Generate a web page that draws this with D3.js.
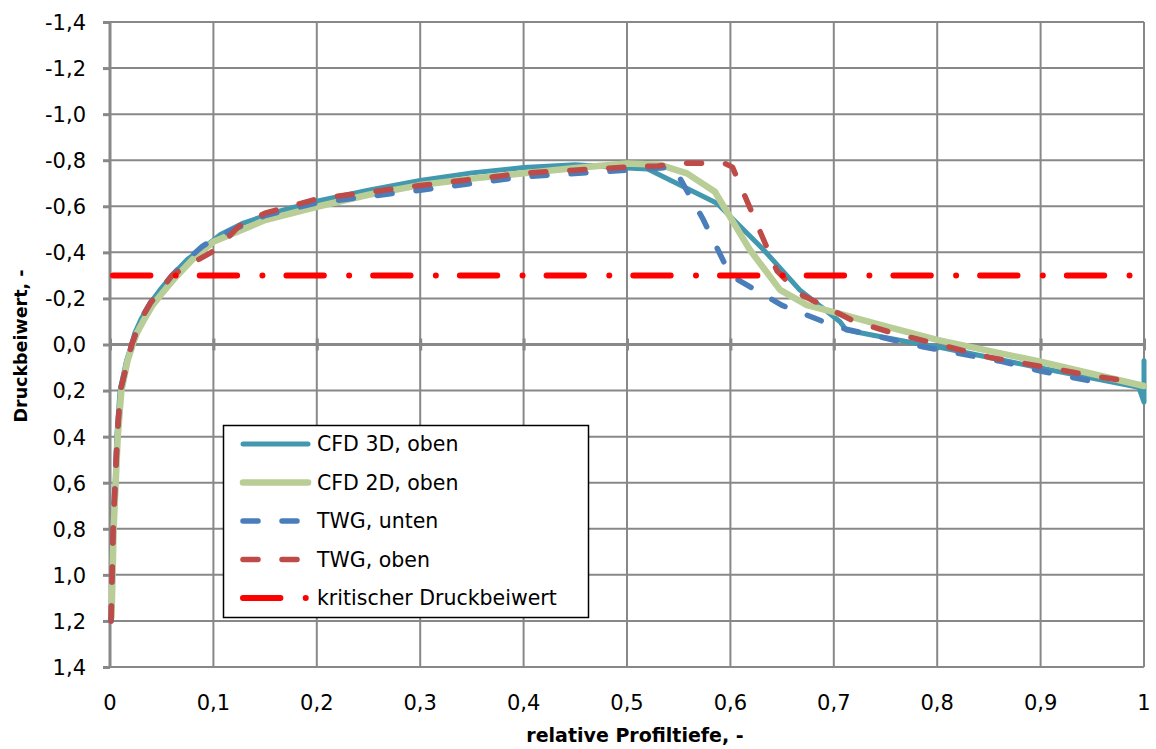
<!DOCTYPE html>
<html>
<head>
<meta charset="utf-8">
<script src="https://cdn.jsdelivr.net/npm/d3@7"></script>
<style>
  body { margin: 0; background: #fff; }
  svg text { font-family: "DejaVu Sans", "Open Sans", sans-serif; fill: #000; }
</style>
</head>
<body>
<svg id="chart" width="1156" height="749"></svg>
<script>
// Axis ticks and labels (German decimal comma)
const xTicks = [0, 0.1, 0.2, 0.3, 0.4, 0.5, 0.6, 0.7, 0.8, 0.9, 1];
const xTickLabels = ["0", "0,1", "0,2", "0,3", "0,4", "0,5", "0,6", "0,7", "0,8", "0,9", "1"];
const yTicks = [-1.4, -1.2, -1.0, -0.8, -0.6, -0.4, -0.2, 0, 0.2, 0.4, 0.6, 0.8, 1.0, 1.2, 1.4];
const yTickLabels = ["-1,4", "-1,2", "-1,0", "-0,8", "-0,6", "-0,4", "-0,2", "0,0", "0,2", "0,4", "0,6", "0,8", "1,0", "1,2", "1,4"];

// CFD 3D, upper side
const cfd3dX  = [0.001, 0.002, 0.003, 0.005, 0.0065, 0.0097, 0.016, 0.021, 0.024, 0.030, 0.039, 0.048, 0.060, 0.075, 0.0935, 0.106, 0.129, 0.161, 0.200, 0.250, 0.300, 0.350, 0.400, 0.450, 0.500, 0.520, 0.587, 0.629, 0.635, 0.667, 0.706, 0.712, 0.738, 0.780, 0.800, 0.900, 0.995, 1.000, 1.000];
const cfd3dCp = [1.20, 1.00, 0.80, 0.60, 0.40, 0.20, 0.07, 0.00, -0.05, -0.11, -0.18, -0.235, -0.30, -0.37, -0.43, -0.475, -0.527, -0.576, -0.622, -0.670, -0.712, -0.745, -0.768, -0.780, -0.766, -0.762, -0.613, -0.425, -0.397, -0.237, -0.099, -0.063, -0.040, -0.005, 0.010, 0.102, 0.186, 0.250, 0.070];

// CFD 2D, upper side
const cfd2dX  = [0.0015, 0.0025, 0.0035, 0.0055, 0.0075, 0.011, 0.017, 0.022, 0.026, 0.032, 0.041, 0.050, 0.063, 0.080, 0.100, 0.150, 0.200, 0.250, 0.300, 0.350, 0.400, 0.450, 0.500, 0.532, 0.558, 0.585, 0.619, 0.648, 0.674, 0.699, 0.745, 0.800, 0.900, 1.000];
const cfd2dCp = [1.18, 1.00, 0.80, 0.60, 0.40, 0.20, 0.07, 0.00, -0.05, -0.10, -0.17, -0.22, -0.29, -0.37, -0.446, -0.540, -0.598, -0.650, -0.692, -0.720, -0.743, -0.766, -0.786, -0.780, -0.743, -0.663, -0.410, -0.237, -0.171, -0.142, -0.085, -0.020, 0.075, 0.180];

// Wind tunnel (TWG), lower side
const twgUntenX  = [0.001, 0.002, 0.003, 0.005, 0.007, 0.010, 0.021, 0.030, 0.039, 0.060, 0.075, 0.089, 0.104, 0.150, 0.200, 0.300, 0.400, 0.500, 0.545, 0.573, 0.600, 0.650, 0.703, 0.786, 0.864, 0.900, 0.951];
const twgUntenCp = [1.20, 1.00, 0.80, 0.60, 0.40, 0.20, 0.00, -0.11, -0.18, -0.30, -0.37, -0.425, -0.468, -0.560, -0.615, -0.670, -0.728, -0.757, -0.770, -0.549, -0.300, -0.170, -0.076, 0.010, 0.075, 0.115, 0.161];

// Wind tunnel (TWG), upper side
const twgObenX  = [0.001, 0.002, 0.003, 0.005, 0.007, 0.010, 0.021, 0.030, 0.039, 0.060, 0.080, 0.098, 0.111, 0.125, 0.150, 0.200, 0.300, 0.400, 0.500, 0.530, 0.560, 0.595, 0.602, 0.645, 0.667, 0.720, 0.754, 0.793, 0.850, 0.900, 0.945, 0.985];
const twgObenCp = [1.20, 1.00, 0.80, 0.60, 0.40, 0.20, 0.00, -0.11, -0.18, -0.30, -0.355, -0.400, -0.450, -0.515, -0.570, -0.632, -0.690, -0.744, -0.770, -0.775, -0.788, -0.785, -0.770, -0.320, -0.220, -0.100, -0.054, -0.010, 0.055, 0.095, 0.132, 0.160];

// Critical pressure coefficient
const kritX  = [0, 1];
const kritCp = [-0.3, -0.3];

const legendLabels = ["CFD 3D, oben", "CFD 2D, oben", "TWG, unten", "TWG, oben", "kritischer Druckbeiwert"];

const zip = (xs, ys) => xs.map((x, i) => ({ x, cp: ys[i] }));

const series = [
  { name: legendLabels[0], data: zip(cfd3dX, cfd3dCp),         color: "#4198AF", width: 5,   dash: null },
  { name: legendLabels[1], data: zip(cfd2dX, cfd2dCp),         color: "#B9CD96", width: 6.5, dash: null },
  { name: legendLabels[2], data: zip(twgUntenX, twgUntenCp),   color: "#4A7EBB", width: 5.5, dash: "15,24" },
  { name: legendLabels[3], data: zip(twgObenX, twgObenCp),     color: "#BE4B48", width: 5.5, dash: "15,24" },
  { name: legendLabels[4], data: zip(kritX, kritCp),           color: "#FF0000", width: 6,   dash: "37.4,25.3,0.01,24", offset: 83.7 }
];

const svg = d3.select("#chart");
const plot = { left: 110, right: 1144, top: 22, bottom: 667 };

const x = d3.scaleLinear().domain([0, 1]).range([plot.left, plot.right]);
const y = d3.scaleLinear().domain([-1.4, 1.4]).range([plot.top, plot.bottom]);

const gridColor = "#888888";

// Gridlines
const grid = svg.append("g");
grid.selectAll("line.h").data(yTicks).join("line")
  .attr("x1", plot.left).attr("x2", plot.right)
  .attr("y1", d => y(d)).attr("y2", d => y(d))
  .attr("stroke", gridColor).attr("stroke-width", 2);
grid.selectAll("line.v").data(xTicks.slice(1)).join("line")
  .attr("x1", d => x(d)).attr("x2", d => x(d))
  .attr("y1", plot.top).attr("y2", plot.bottom)
  .attr("stroke", gridColor).attr("stroke-width", 2);

// Y axis with outward ticks
const yAxis = d3.axisLeft(y).tickValues(yTicks).tickSize(7).tickPadding(17)
  .tickFormat((d, i) => yTickLabels[i]);
const gy = svg.append("g").attr("transform", `translate(${plot.left},0)`).call(yAxis);
gy.select(".domain").attr("stroke", gridColor).attr("stroke-width", 3)
  .attr("d", `M0,${plot.top - 1}V${plot.bottom + 1}`);
gy.selectAll(".tick line").attr("stroke", gridColor).attr("stroke-width", 3);
gy.selectAll(".tick text").style("font-size", "21px").attr("dy", "0.35em")
  .style("font-family", "\"DejaVu Sans\", sans-serif");

// X axis drawn along Cp = 0, labels placed below the plot
const xAxis = d3.axisBottom(x).tickValues(xTicks).tickSize(0).tickFormat("");
const gx = svg.append("g").attr("transform", `translate(0,${y(0)})`).call(xAxis);
gx.select(".domain").attr("stroke", gridColor).attr("stroke-width", 3)
  .attr("d", `M${plot.left},0H${plot.right}`);
gx.selectAll(".tick").append("line")
  .attr("y1", -6).attr("y2", 6).attr("stroke", gridColor).attr("stroke-width", 3);

svg.append("g").selectAll("text").data(xTicks).join("text")
  .attr("x", d => x(d)).attr("y", 703).attr("dy", "0.35em")
  .attr("text-anchor", "middle").style("font-size", "21px")
  .text((d, i) => xTickLabels[i]);

// Axis titles
svg.append("text").attr("x", 635).attr("y", 735).attr("dy", "0.35em")
  .attr("text-anchor", "middle").style("font-size", "19px").style("font-weight", "bold")
  .text("relative Profiltiefe, -");
svg.append("text").attr("transform", `translate(21,346) rotate(-90)`)
  .attr("dy", "0.35em").attr("text-anchor", "middle")
  .style("font-size", "17.5px").style("font-weight", "bold")
  .text("Druckbeiwert, -");

// Data lines
const line = d3.line().x(d => x(d.x)).y(d => y(d.cp)).curve(d3.curveLinear);
const lines = svg.append("g");
series.forEach(s => {
  const p = lines.append("path").datum(s.data)
    .attr("d", line)
    .attr("fill", "none")
    .attr("stroke", s.color)
    .attr("stroke-width", s.width)
    .attr("stroke-linecap", "round")
    .attr("stroke-linejoin", "round");
  if (s.dash) p.attr("stroke-dasharray", s.dash);
  if (s.offset) p.attr("stroke-dashoffset", s.offset);
});

// Legend
const legend = svg.append("g");
legend.append("rect").attr("x", 223.5).attr("y", 425.5).attr("width", 365).attr("height", 192)
  .attr("fill", "#fff").attr("stroke", "#000").attr("stroke-width", 1.5);
const rowY = i => 444 + i * 38.5;
series.forEach((s, i) => {
  const g = legend.append("g");
  const p = g.append("line")
    .attr("x1", 243).attr("x2", 308).attr("y1", rowY(i)).attr("y2", rowY(i))
    .attr("stroke", s.color).attr("stroke-width", s.width)
    .attr("stroke-linecap", "round");
  if (s.dash) p.attr("stroke-dasharray", s.dash);
  g.append("text").attr("x", 317).attr("y", rowY(i)).attr("dy", "0.35em")
    .style("font-size", "20.5px").text(s.name);
});
</script>
</body>
</html>
